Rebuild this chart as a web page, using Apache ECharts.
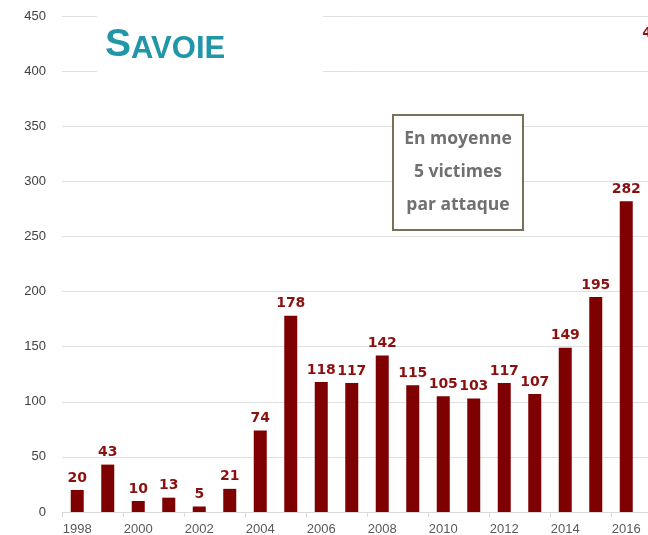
<!DOCTYPE html>
<html>
<head>
<meta charset="utf-8">
<script src="https://cdn.jsdelivr.net/npm/echarts@6/dist/echarts.min.js"></script>
<style>
  html, body { margin: 0; padding: 0; background: #fff; }
  #main { width: 648px; height: 535px; }
</style>
</head>
<body>
<div id="main"></div>
<script>
// données
var years = ['1998','1999','2000','2001','2002','2003','2004','2005','2006','2007',
             '2008','2009','2010','2011','2012','2013','2014','2015','2016','2017'];
var victimes = [20, 43, 10, 13, 5, 21, 74, 178, 118, 117,
                142, 115, 105, 103, 117, 107, 149, 195, 282, 423];
var yTicks = [0, 50, 100, 150, 200, 250, 300, 350, 400, 450];

var myChart = echarts.init(document.getElementById('main'));

myChart.setOption({
  animation: false,
  // la dernière année (2017) dépasse à droite, comme dans l'original
  grid: { left: 62, width: 610, top: 16, height: 496, outerBoundsMode: 'none', containLabel: false },
  xAxis: {
    type: 'category',
    data: years,
    axisLine: { lineStyle: { color: '#d9d9d9' } },
    axisTick: { show: true, interval: 1, length: 5, lineStyle: { color: '#d9d9d9' } },
    axisLabel: { interval: 1, color: '#595959', fontSize: 13, fontFamily: 'Liberation Sans', margin: 11 }
  },
  yAxis: {
    type: 'value',
    min: yTicks[0],
    max: yTicks[yTicks.length - 1],
    interval: 50,
    axisLine: { show: false },
    axisTick: { show: false },
    axisLabel: { color: '#404040', fontSize: 13, fontFamily: 'Liberation Sans', margin: 16 },
    splitLine: { lineStyle: { color: '#e0e0e0' } }
  },
  series: [{
    type: 'bar',
    data: victimes,
    barWidth: 13,
    itemStyle: { color: '#7f0000' },
    label: {
      show: true,
      position: 'top',
      distance: 5,
      color: '#8b1010',
      fontSize: 14,
      fontWeight: 'bold',
      fontFamily: 'DejaVu Sans'
    }
  }],
  graphic: [
    { type: 'rect', z: 100, shape: { x: 97, y: 10, width: 226, height: 66 }, style: { fill: '#fff' } },
    {
      type: 'text', z: 101, x: 105, y: 65,
      style: {
        text: '{a|S}{b|AVOIE}',
        verticalAlign: 'bottom',
        rich: {
          a: { fontSize: 39, fontWeight: 'bold', fill: '#2196a8', fontFamily: 'Liberation Sans', verticalAlign: 'bottom' },
          b: { fontSize: 31, fontWeight: 'bold', fill: '#2196a8', fontFamily: 'Liberation Sans', verticalAlign: 'bottom' }
        }
      }
    },
    {
      type: 'rect', z: 100, shape: { x: 393, y: 115, width: 130, height: 115 },
      style: { fill: '#fff', stroke: '#7a7058', lineWidth: 2 }
    },
    {
      type: 'text', z: 101, x: 458, y: 172,
      style: {
        text: 'En moyenne\n5 victimes\npar attaque',
        align: 'center', verticalAlign: 'middle',
        fontSize: 17.5, fontWeight: 'bold', lineHeight: 33,
        fill: '#707070', fontFamily: 'Open Sans'
      }
    }
  ]
});
</script>
</body>
</html>
